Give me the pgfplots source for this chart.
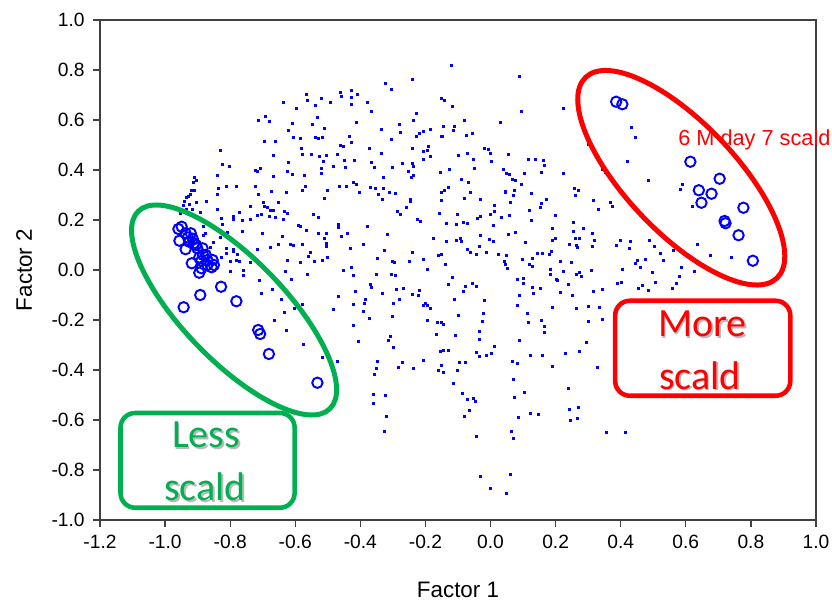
\documentclass[border=0pt]{standalone}
\usepackage{pgfplots}
\pgfplotsset{compat=1.18}
\usepackage{fontspec}
\setmainfont{Liberation Sans}
\newfontfamily\calibri{Carlito}
\definecolor{offgreen}{HTML}{00B050}
\definecolor{axgray}{HTML}{404040}

\pgfplotstableread{
x y
-0.567 0.704
-0.564 0.677
-0.519 0.687
-0.493 0.671
-0.539 0.659
-0.463 0.711
-0.460 0.695
-0.428 0.719
-0.410 0.703
-0.428 0.689
-0.429 0.663
-0.379 0.671
-0.368 0.636
-0.638 0.671
-0.597 0.647
-0.693 0.616
-0.713 0.597
-0.680 0.593
-0.532 0.612
-0.549 0.581
-0.512 0.565
-0.609 0.585
-0.623 0.557
-0.414 0.589
-0.606 0.529
-0.586 0.527
-0.540 0.531
-0.529 0.527
-0.518 0.532
-0.694 0.516
-0.662 0.516
-0.463 0.499
-0.454 0.493
-0.429 0.509
-0.434 0.535
-0.374 0.487
-0.582 0.487
-0.577 0.464
-0.551 0.461
-0.526 0.453
-0.504 0.459
-0.514 0.436
-0.471 0.461
-0.450 0.440
-0.419 0.440
-0.368 0.432
-0.357 0.409
-0.483 0.416
-0.447 0.411
-0.521 0.407
-0.519 0.385
-0.622 0.431
-0.668 0.460
-0.831 0.480
-0.825 0.424
-0.802 0.416
-0.841 0.380
-0.723 0.400
-0.718 0.396
-0.709 0.407
-0.624 0.396
-0.608 0.381
-0.573 0.380
-0.669 0.375
-0.674 0.316
-0.722 0.335
-0.714 0.303
-0.627 0.312
-0.580 0.320
-0.568 0.335
-0.503 0.320
-0.511 0.288
-0.466 0.336
-0.444 0.336
-0.423 0.352
-0.412 0.341
-0.404 0.309
-0.371 0.329
-0.354 0.327
-0.345 0.303
-0.811 0.333
-0.780 0.333
-0.836 0.325
-0.839 0.304
-0.875 0.276
-0.904 0.269
-0.910 0.371
-0.905 0.360
-0.913 0.352
-0.919 0.320
-0.910 0.320
-0.922 0.303
-0.929 0.293
-0.936 0.291
-0.940 0.276
-0.945 0.257
-0.925 0.264
-0.915 0.244
-0.934 0.244
-0.952 0.227
-0.893 0.231
-0.841 0.244
-0.772 0.232
-0.790 0.216
-0.792 0.203
-0.739 0.253
-0.698 0.269
-0.694 0.253
-0.687 0.249
-0.678 0.240
-0.667 0.240
-0.651 0.269
-0.716 0.217
-0.703 0.224
-0.679 0.213
-0.662 0.212
-0.633 0.233
-0.626 0.227
-0.636 0.204
-0.737 0.201
-0.762 0.199
-0.827 0.207
-0.823 0.184
-0.591 0.177
-0.585 0.175
-0.566 0.157
-0.544 0.224
-0.530 0.209
-0.467 0.183
-0.468 0.171
-0.439 0.147
-0.458 0.135
-0.380 0.173
-0.530 0.147
-0.504 0.148
-0.701 0.147
-0.764 0.155
-0.809 0.149
-0.639 0.135
-0.652 0.103
-0.616 0.103
-0.607 0.097
-0.577 0.103
-0.554 0.069
-0.504 0.105
-0.504 0.093
-0.510 0.127
-0.431 0.085
-0.390 0.101
-0.348 0.047
-0.831 0.131
-0.851 0.109
-0.883 0.140
-0.884 0.176
-0.878 0.145
-0.860 0.089
-0.826 0.051
-0.811 0.085
-0.813 0.065
-0.789 0.084
-0.792 0.073
-0.762 0.084
-0.778 0.064
-0.800 0.036
-0.781 0.040
-0.771 0.035
-0.718 0.084
-0.677 0.092
-0.625 0.039
-0.585 0.031
-0.559 0.053
-0.542 0.033
-0.518 0.037
-0.502 0.051
-0.452 0.000
-0.427 0.011
-0.422 -0.020
-0.350 -0.016
-0.632 -0.007
-0.711 -0.040
-0.739 0.032
-0.800 -0.007
-0.760 0.000
-0.761 -0.020
-0.613 -0.036
-0.564 -0.016
-0.121 0.817
0.089 0.776
-0.242 0.761
-0.322 0.748
-0.305 0.721
-0.150 0.687
-0.143 0.677
-0.119 0.656
0.093 0.633
0.222 0.645
-0.227 0.628
-0.236 0.599
0.031 0.591
-0.082 0.597
-0.280 0.583
-0.277 0.552
-0.336 0.564
-0.305 0.521
-0.206 0.556
-0.220 0.548
-0.228 0.533
-0.185 0.564
-0.144 0.576
-0.113 0.573
-0.114 0.560
-0.152 0.536
-0.148 0.533
-0.075 0.539
-0.056 0.548
-0.239 0.487
-0.191 0.495
-0.206 0.473
-0.195 0.477
-0.184 0.453
-0.206 0.443
-0.335 0.467
-0.100 0.457
-0.073 0.468
-0.020 0.488
-0.006 0.481
-0.002 0.468
0.001 0.435
-0.052 0.441
0.055 0.463
0.115 0.443
0.137 0.444
0.161 0.440
0.164 0.420
-0.302 0.412
-0.272 0.427
-0.239 0.427
-0.236 0.415
-0.254 0.395
-0.237 0.380
-0.245 0.371
-0.330 0.369
-0.156 0.389
-0.126 0.401
-0.050 0.405
-0.089 0.363
-0.068 0.349
0.040 0.404
0.049 0.387
0.057 0.381
0.103 0.387
0.156 0.389
0.222 0.385
0.066 0.361
0.075 0.360
0.094 0.343
-0.330 0.325
-0.310 0.311
-0.294 0.307
-0.332 0.281
-0.248 0.284
-0.248 0.276
-0.259 0.251
-0.287 0.235
-0.276 0.221
-0.150 0.312
-0.142 0.317
-0.130 0.332
-0.150 0.280
-0.081 0.287
-0.063 0.309
-0.031 0.284
0.044 0.316
0.046 0.312
0.072 0.319
0.070 0.297
0.060 0.271
0.010 0.259
0.012 0.233
0.125 0.308
0.172 0.284
0.156 0.265
0.152 0.252
0.119 0.239
0.125 0.199
0.200 0.219
0.258 0.325
0.269 0.320
0.259 0.297
-0.157 0.227
-0.103 0.221
-0.224 0.204
-0.217 0.195
-0.135 0.188
-0.106 0.184
-0.085 0.191
-0.070 0.187
-0.040 0.208
-0.032 0.216
-0.001 0.221
0.032 0.212
0.057 0.217
0.009 0.179
-0.317 0.141
-0.176 0.127
-0.135 0.115
-0.106 0.120
-0.094 0.127
-0.089 0.113
-0.032 0.139
-0.004 0.124
0.007 0.115
0.053 0.141
0.076 0.151
0.106 0.111
0.191 0.165
0.200 0.127
0.190 0.120
0.254 0.191
0.254 0.156
0.260 0.125
0.272 0.125
0.286 0.165
0.242 0.103
0.262 0.099
0.266 0.092
-0.327 0.079
-0.239 0.072
-0.072 0.084
-0.062 0.071
-0.036 0.096
-0.045 0.061
-0.012 0.071
0.025 0.063
0.048 0.057
-0.160 0.057
-0.150 0.061
0.144 0.065
0.159 0.068
0.179 0.064
0.188 0.073
0.096 0.043
0.127 0.048
-0.301 0.036
-0.295 0.029
-0.251 0.035
-0.207 0.041
-0.139 0.023
0.041 0.035
0.045 0.021
0.050 0.008
0.120 0.024
0.129 0.016
0.214 0.036
0.247 0.032
-0.195 0.001
-0.304 -0.019
-0.293 -0.021
-0.119 -0.028
0.083 -0.036
0.100 -0.035
0.184 0.004
0.183 -0.016
0.223 -0.005
0.272 -0.008
0.262 -0.016
0.280 -0.025
0.203 -0.037
0.301 0.503
0.433 0.572
0.445 0.529
0.419 0.436
0.485 0.359
0.342 0.404
0.354 0.391
0.588 0.343
0.583 0.323
0.619 0.256
0.316 0.277
0.330 0.241
0.369 0.269
0.374 0.255
0.471 0.204
0.312 0.147
0.320 0.120
0.314 0.096
0.400 0.119
0.428 0.115
0.385 0.099
0.426 0.085
0.488 0.120
0.502 0.095
0.520 0.065
0.531 0.037
0.561 0.077
0.451 0.040
0.476 0.043
0.444 0.027
0.461 0.011
0.496 -0.009
0.405 0.001
0.310 -0.003
0.587 0.011
0.580 -0.024
0.627 -0.005
0.634 0.103
0.676 0.057
0.739 0.051
-0.705 -0.095
-0.671 -0.076
-0.643 -0.117
-0.633 -0.171
-0.603 -0.153
-0.580 -0.136
-0.666 -0.201
-0.629 -0.241
-0.574 -0.297
-0.518 -0.348
-0.470 -0.365
-0.468 -0.105
-0.483 -0.157
-0.417 -0.085
-0.423 -0.139
-0.389 -0.135
-0.385 -0.117
-0.391 -0.164
-0.372 -0.195
-0.421 -0.221
-0.406 -0.285
-0.369 -0.057
-0.365 -0.069
-0.347 -0.367
-0.350 -0.393
-0.357 -0.416
-0.360 -0.497
-0.360 -0.533
-0.332 -0.093
-0.289 -0.077
-0.267 -0.075
-0.239 -0.099
-0.223 -0.100
-0.220 -0.080
-0.299 -0.135
-0.280 -0.119
-0.208 -0.143
-0.201 -0.135
-0.195 -0.140
-0.184 -0.152
-0.302 -0.184
-0.195 -0.201
-0.165 -0.211
-0.152 -0.208
-0.145 -0.216
-0.168 -0.257
-0.308 -0.264
-0.314 -0.283
-0.298 -0.308
-0.271 -0.368
-0.284 -0.389
-0.238 -0.392
-0.206 -0.361
-0.129 -0.059
-0.111 -0.117
-0.078 -0.067
-0.083 -0.085
-0.055 -0.055
-0.044 -0.067
-0.020 -0.121
-0.100 -0.183
-0.023 -0.173
-0.026 -0.207
-0.035 -0.245
-0.107 -0.260
-0.035 -0.277
-0.153 -0.327
-0.144 -0.323
-0.129 -0.321
-0.044 -0.328
-0.035 -0.345
-0.013 -0.343
0.002 -0.335
0.010 -0.307
-0.096 -0.371
-0.077 -0.369
-0.150 -0.381
-0.161 -0.403
-0.145 -0.408
-0.102 -0.403
-0.114 -0.453
-0.088 -0.493
-0.073 -0.517
-0.054 -0.515
-0.047 -0.525
-0.066 -0.563
-0.082 -0.587
-0.043 -0.664
-0.323 -0.503
-0.320 -0.585
-0.328 -0.645
-0.032 -0.825
-0.001 -0.873
0.060 -0.816
0.047 -0.895
0.063 -0.645
0.069 -0.672
0.074 -0.508
0.070 -0.439
0.104 -0.491
0.085 -0.589
0.123 -0.573
0.147 -0.577
0.066 -0.367
0.083 -0.375
0.123 -0.343
0.158 -0.341
0.190 -0.385
0.230 -0.335
0.273 -0.324
0.295 -0.291
0.087 -0.281
0.115 -0.211
0.114 -0.173
0.083 -0.141
0.088 -0.103
0.101 -0.052
0.129 -0.069
0.132 -0.095
0.152 -0.073
0.205 -0.040
0.238 -0.056
0.213 -0.089
0.252 -0.101
0.189 -0.151
0.263 -0.152
0.301 -0.145
0.300 -0.207
0.155 -0.200
0.166 -0.224
0.164 -0.248
0.240 -0.475
0.242 -0.556
0.271 -0.549
0.244 -0.600
0.267 -0.592
0.316 -0.087
0.343 -0.076
0.388 -0.053
0.402 -0.051
0.454 -0.073
0.467 -0.060
0.484 -0.081
0.506 -0.048
0.557 -0.072
0.571 -0.053
0.334 -0.149
0.344 -0.196
0.328 -0.391
0.355 -0.648
0.414 -0.651
}\dots

\pgfplotstableread{
x y
-0.959 0.164
-0.949 0.173
-0.956 0.117
-0.937 0.147
-0.921 0.147
-0.937 0.083
-0.926 0.113
-0.911 0.107
-0.901 0.087
-0.885 0.087
-0.883 0.060
-0.889 0.036
-0.918 0.027
-0.895 -0.011
-0.888 0.007
-0.854 0.040
-0.850 0.020
-0.857 0.011
-0.870 0.040
-0.828 -0.067
-0.892 -0.100
-0.943 -0.149
-0.781 -0.125
-0.714 -0.240
-0.708 -0.256
-0.681 -0.336
-0.532 -0.451
-0.930 0.130
-0.905 0.100
-0.875 0.060
-0.870 0.020
-0.895 0.050
-0.915 0.125
0.386 0.673
0.405 0.663
0.614 0.433
0.704 0.365
0.640 0.319
0.679 0.305
0.648 0.269
0.777 0.249
0.719 0.196
0.722 0.187
0.762 0.139
0.806 0.037
}\circles

\begin{document}
\begin{tikzpicture}
\begin{axis}[
  at={(0,0)}, anchor=south west,
  scale only axis, width=537pt, height=375pt,
  xmin=-1.2, xmax=1.0, ymin=-1.0, ymax=1.0,
  xtick={-1.2,-1.0,-0.8,-0.6,-0.4,-0.2,0,0.2,0.4,0.6,0.8,1.0},
  ytick={-1.0,-0.8,-0.6,-0.4,-0.2,0,0.2,0.4,0.6,0.8,1.0},
  tick align=outside, tick pos=left,
  major tick length=5pt,
  axis line style={line width=1pt, draw=axgray},
  every tick/.style={line width=1pt, axgray},
  ticklabel style={font=\fontsize{14.4}{16}\selectfont, text=black},
  xticklabel style={yshift=-2.5pt},
  yticklabel style={xshift=-3pt},
  /pgf/number format/.cd, fixed, fixed zerofill, precision=1, assume math mode=true,
  /pgfplots/.cd,
  xlabel={Factor 1}, ylabel={Factor 2},
  label style={font=\fontsize{16.8}{18}\selectfont},
  xlabel style={at={(axis description cs:0.5,-0.156)}, anchor=base},
  ylabel style={at={(axis description cs:-0.106,0.5)}, anchor=center},
]
\addplot[only marks, mark=square*, mark size=0.75pt, color=blue] table {\dots};
\addplot[only marks, mark=o, mark size=3.9pt, mark options={line width=1.45pt}, color=blue] table {\circles};
\coordinate (gc) at (axis cs:-0.788,-0.160);
\coordinate (rc) at (axis cs:0.586,0.369);
\coordinate (gb1) at (axis cs:-1.137,-0.572);
\coordinate (gb2) at (axis cs:-0.602,-0.951);
\coordinate (rb1) at (axis cs:0.383,-0.123);
\coordinate (rb2) at (axis cs:0.921,-0.503);
\coordinate (t6m) at (axis cs:0.576,0.497);
\coordinate (less) at (axis cs:-0.874,-0.712);
\coordinate (gscald) at (axis cs:-0.877,-0.923);
\coordinate (more) at (axis cs:0.651,-0.267);
\coordinate (rscald) at (axis cs:0.643,-0.477);
\end{axis}
\draw[offgreen, line width=3.75pt, rotate around={-45.9:(gc)}] (gc) ellipse [x radius=103.2pt, y radius=38.2pt];
\draw[red, line width=3.75pt, rotate around={-46.4:(rc)}] (rc) ellipse [x radius=104pt, y radius=41pt];
\draw[offgreen, line width=3.4pt, rounded corners=11pt] (gb1) rectangle (gb2);
\draw[red, line width=3.4pt, rounded corners=11pt] (rb1) rectangle (rb2);
\node[anchor=base west, inner sep=0pt, text=red, font=\fontsize{16.3}{18}\selectfont] at (t6m) {6 M day 7 scald};
\foreach \p/\t/\c in {less/Less/offgreen, gscald/scald/offgreen, more/More/red, rscald/scald/red}{
  \node[anchor=base, inner sep=0pt, text=black!45, opacity=0.6, font=\calibri\fontsize{30}{32}\selectfont] at ([xshift=1.3pt,yshift=-1.3pt]\p) {\t};
  \node[anchor=base, inner sep=0pt, text=\c, font=\calibri\fontsize{30}{32}\selectfont] at (\p) {\t};
}
\pgfresetboundingbox
\path (-75pt,-61.5pt) rectangle (549pt,390pt);
\end{tikzpicture}
\end{document}
